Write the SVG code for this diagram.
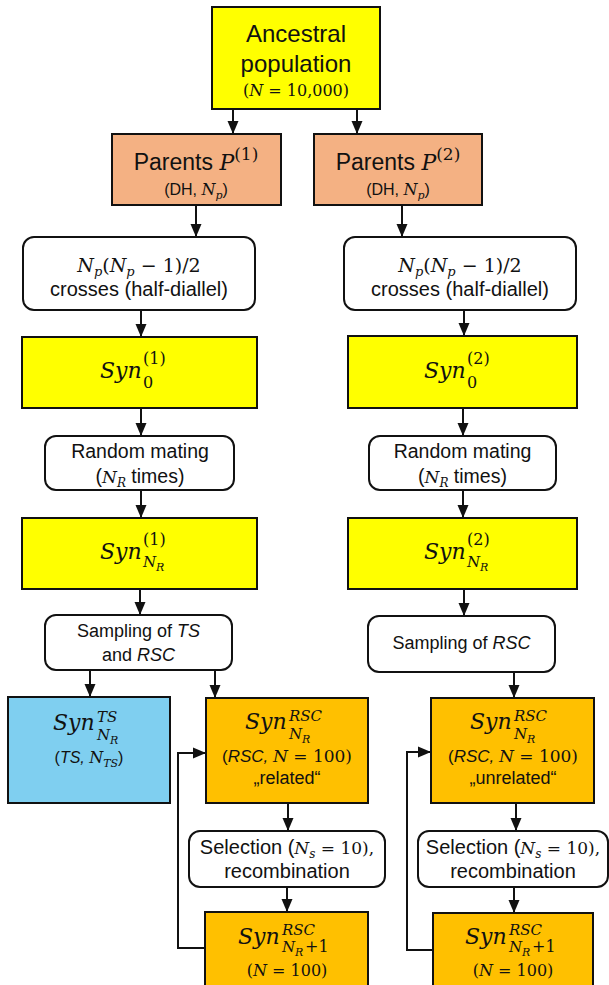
<svg xmlns="http://www.w3.org/2000/svg" width="609" height="985" viewBox="0 0 609 985">
<style>
.bx{stroke:#111;stroke-width:2}
.rnd{fill:#fff;stroke:#111;stroke-width:2}
.yel{fill:#ffff00}
.sal{fill:#f4b183}
.org{fill:#ffc000}
.blu{fill:#7fcff0}
.ln{fill:none;stroke:#111;stroke-width:2}
text{fill:#111}
.s{font-family:"Liberation Sans",Arial,sans-serif}
.m{font-family:"DejaVu Serif","Liberation Serif",serif;font-style:italic}
.u{font-style:normal}
.i{font-style:italic}
.c{text-anchor:middle}
.syn{font-family:"DejaVu Serif","Liberation Serif",serif;font-style:italic;font-size:22px}
.sc{font-family:"DejaVu Serif","Liberation Serif",serif;font-size:16px}
.scm{font-family:"DejaVu Serif","Liberation Serif",serif;font-style:italic;font-size:15px}
.ss{font-family:"DejaVu Serif","Liberation Serif",serif;font-style:italic;font-size:11px}
</style>
<defs>
<marker id="ah" viewBox="0 0 13 12" refX="13" refY="6" markerWidth="13" markerHeight="12" markerUnits="userSpaceOnUse" orient="auto">
<path d="M0,0.5 L13,6 L0,11.5 z" fill="#111"/>
</marker>
</defs>

<g id="connectors" class="ln" marker-end="url(#ah)">
<line x1="233" y1="109" x2="233" y2="134"/>
<line x1="357" y1="109" x2="357" y2="134"/>
<line x1="196" y1="205" x2="196" y2="237"/>
<line x1="402" y1="205" x2="402" y2="237"/>
<line x1="141" y1="310" x2="141" y2="337"/>
<line x1="464" y1="310" x2="464" y2="336"/>
<line x1="141" y1="408" x2="141" y2="436"/>
<line x1="463" y1="408" x2="463" y2="436"/>
<line x1="141" y1="489" x2="141" y2="518"/>
<line x1="463" y1="489" x2="463" y2="518"/>
<line x1="140" y1="589" x2="140" y2="615"/>
<line x1="464" y1="589" x2="464" y2="616"/>
<line x1="90" y1="670" x2="90" y2="697"/>
<line x1="215" y1="670" x2="215" y2="698"/>
<line x1="514" y1="672" x2="514" y2="698"/>
<line x1="288" y1="803" x2="288" y2="831"/>
<line x1="516" y1="803" x2="516" y2="831"/>
<line x1="287" y1="887" x2="287" y2="912"/>
<line x1="514" y1="887" x2="514" y2="913"/>
<path d="M205,948 H178 V753 H206"/>
<path d="M433,950 H407 V752 H431"/>
</g>

<g id="ancestral">
<rect class="bx yel" x="212" y="7" width="168" height="102"/>
<text class="s c" x="296" y="42" font-size="24">Ancestral</text>
<text class="s c" x="296" y="72" font-size="24">population</text>
<text class="m u c" x="296" y="96" font-size="16">(<tspan class="i">N</tspan> = 10,000)</text>
</g>

<g id="parents1">
<rect class="bx sal" x="112" y="134" width="169" height="71"/>
<text class="s c" x="196" y="170" font-size="23">Parents <tspan class="m" font-size="22">P</tspan><tspan class="m u" font-size="17" dy="-10">(1)</tspan></text>
<text class="s c" x="196" y="195" font-size="16">(DH, <tspan class="m">N</tspan><tspan class="m" font-size="11" dy="4">p</tspan><tspan dy="-4">)</tspan></text>
</g>

<g id="parents2">
<rect class="bx sal" x="314" y="134" width="168" height="71"/>
<text class="s c" x="398" y="170" font-size="23">Parents <tspan class="m" font-size="22">P</tspan><tspan class="m u" font-size="17" dy="-10">(2)</tspan></text>
<text class="s c" x="398" y="195" font-size="16">(DH, <tspan class="m">N</tspan><tspan class="m" font-size="11" dy="4">p</tspan><tspan dy="-4">)</tspan></text>
</g>

<g id="crosses1">
<rect class="rnd" x="23" y="237" width="232" height="73" rx="11"/>
<text class="m c" x="139" y="272" font-size="19">N<tspan font-size="13" dy="4">p</tspan><tspan class="u" dy="-4">(</tspan>N<tspan font-size="13" dy="4">p</tspan><tspan class="u" dy="-4"> − 1)/2</tspan></text>
<text class="s c" x="139" y="296" font-size="20">crosses (half-diallel)</text>
</g>

<g id="crosses2">
<rect class="rnd" x="344" y="237" width="232" height="73" rx="11"/>
<text class="m c" x="460" y="272" font-size="19">N<tspan font-size="13" dy="4">p</tspan><tspan class="u" dy="-4">(</tspan>N<tspan font-size="13" dy="4">p</tspan><tspan class="u" dy="-4"> − 1)/2</tspan></text>
<text class="s c" x="460" y="296" font-size="20">crosses (half-diallel)</text>
</g>

<g id="syn0_1">
<rect class="bx yel" x="22" y="337" width="235" height="71"/>
<text class="syn" x="100" y="378">Syn</text>
<text class="sc" x="143" y="364">(1)</text>
<text class="sc" x="143" y="388">0</text>
</g>

<g id="syn0_2">
<rect class="bx yel" x="348" y="336" width="229" height="72"/>
<text class="syn" x="424" y="378">Syn</text>
<text class="sc" x="467" y="364">(2)</text>
<text class="sc" x="467" y="388">0</text>
</g>

<g id="random1">
<rect class="rnd" x="45" y="436" width="189" height="54" rx="11"/>
<text class="s c" x="140" y="458" font-size="19.5">Random mating</text>
<text class="s c" x="140" y="483" font-size="19.5">(<tspan class="m" font-size="17">N</tspan><tspan class="m" font-size="12" dy="4">R</tspan><tspan dy="-4"> times)</tspan></text>
</g>

<g id="random2">
<rect class="rnd" x="369" y="436" width="187" height="54" rx="11"/>
<text class="s c" x="462.5" y="458" font-size="19.5">Random mating</text>
<text class="s c" x="462.5" y="483" font-size="19.5">(<tspan class="m" font-size="17">N</tspan><tspan class="m" font-size="12" dy="4">R</tspan><tspan dy="-4"> times)</tspan></text>
</g>

<g id="synNR_1">
<rect class="bx yel" x="22" y="518" width="235" height="71"/>
<text class="syn" x="100" y="559">Syn</text>
<text class="sc" x="143" y="545">(1)</text>
<text class="scm" x="143" y="567">N</text>
<text class="ss" x="156" y="571">R</text>
</g>

<g id="synNR_2">
<rect class="bx yel" x="348" y="518" width="229" height="71"/>
<text class="syn" x="424" y="559">Syn</text>
<text class="sc" x="467" y="545">(2)</text>
<text class="scm" x="467" y="567">N</text>
<text class="ss" x="480" y="571">R</text>
</g>

<g id="sampling1">
<rect class="rnd" x="45" y="615" width="187" height="55" rx="11"/>
<text class="s c" x="138.5" y="637" font-size="18">Sampling of <tspan class="i">TS</tspan></text>
<text class="s c" x="138.5" y="661" font-size="18">and <tspan class="i">RSC</tspan></text>
</g>

<g id="sampling2">
<rect class="rnd" x="368" y="616" width="187" height="56" rx="11"/>
<text class="s c" x="461.5" y="649" font-size="18">Sampling of <tspan class="i">RSC</tspan></text>
</g>

<g id="synTS">
<rect class="bx blu" x="8" y="697" width="162" height="106"/>
<text class="syn" x="53" y="730">Syn</text>
<text class="scm" x="97" y="722">TS</text>
<text class="scm" x="97" y="740">N</text>
<text class="ss" x="110" y="744">R</text>
<text class="s c" x="89" y="763" font-size="16">(<tspan class="i">TS, </tspan><tspan class="m">N</tspan><tspan class="m" font-size="11" dy="4">TS</tspan><tspan dy="-4">)</tspan></text>
</g>

<g id="synRSC_related">
<rect class="bx org" x="206" y="698" width="162" height="105"/>
<text class="syn" x="245" y="729">Syn</text>
<text class="scm" x="289" y="721">RSC</text>
<text class="scm" x="289" y="739">N</text>
<text class="ss" x="302" y="743">R</text>
<text class="s c" x="287" y="762" font-size="17">(<tspan class="i">RSC, </tspan><tspan class="m">N</tspan><tspan class="m u"> = 100)</tspan></text>
<text class="s c" x="287" y="784" font-size="18">„related“</text>
</g>

<g id="synRSC_unrelated">
<rect class="bx org" x="431" y="698" width="163" height="105"/>
<text class="syn" x="470" y="729">Syn</text>
<text class="scm" x="514" y="721">RSC</text>
<text class="scm" x="514" y="739">N</text>
<text class="ss" x="527" y="743">R</text>
<text class="s c" x="513" y="762" font-size="17">(<tspan class="i">RSC, </tspan><tspan class="m">N</tspan><tspan class="m u"> = 100)</tspan></text>
<text class="s c" x="513" y="784" font-size="18">„unrelated“</text>
</g>

<g id="selection1">
<rect class="rnd" x="189" y="831" width="196" height="56" rx="11"/>
<text class="s c" x="287" y="854" font-size="20">Selection (<tspan class="m" font-size="17">N</tspan><tspan class="m" font-size="12" dy="4">s</tspan><tspan class="m u" font-size="17" dy="-4"> = 10),</tspan></text>
<text class="s c" x="287" y="878" font-size="20">recombination</text>
</g>

<g id="selection2">
<rect class="rnd" x="418" y="831" width="190" height="56" rx="11"/>
<text class="s c" x="513" y="854" font-size="20">Selection (<tspan class="m" font-size="17">N</tspan><tspan class="m" font-size="12" dy="4">s</tspan><tspan class="m u" font-size="17" dy="-4"> = 10),</tspan></text>
<text class="s c" x="513" y="878" font-size="20">recombination</text>
</g>

<g id="synRSC_next1">
<rect class="bx org" x="205" y="912" width="163" height="80"/>
<text class="syn" x="238" y="944">Syn</text>
<text class="scm" x="282" y="935">RSC</text>
<text class="scm" x="282" y="952">N</text>
<text class="ss" x="295" y="956">R</text>
<text class="sc" x="305" y="952" font-size="15">+1</text>
<text class="m u c" x="287" y="976" font-size="16">(<tspan class="i">N</tspan> = 100)</text>
</g>

<g id="synRSC_next2">
<rect class="bx org" x="433" y="913" width="160" height="80"/>
<text class="syn" x="465" y="944">Syn</text>
<text class="scm" x="509" y="935">RSC</text>
<text class="scm" x="509" y="952">N</text>
<text class="ss" x="522" y="956">R</text>
<text class="sc" x="532" y="952" font-size="15">+1</text>
<text class="m u c" x="513" y="976" font-size="16">(<tspan class="i">N</tspan> = 100)</text>
</g>
</svg>
